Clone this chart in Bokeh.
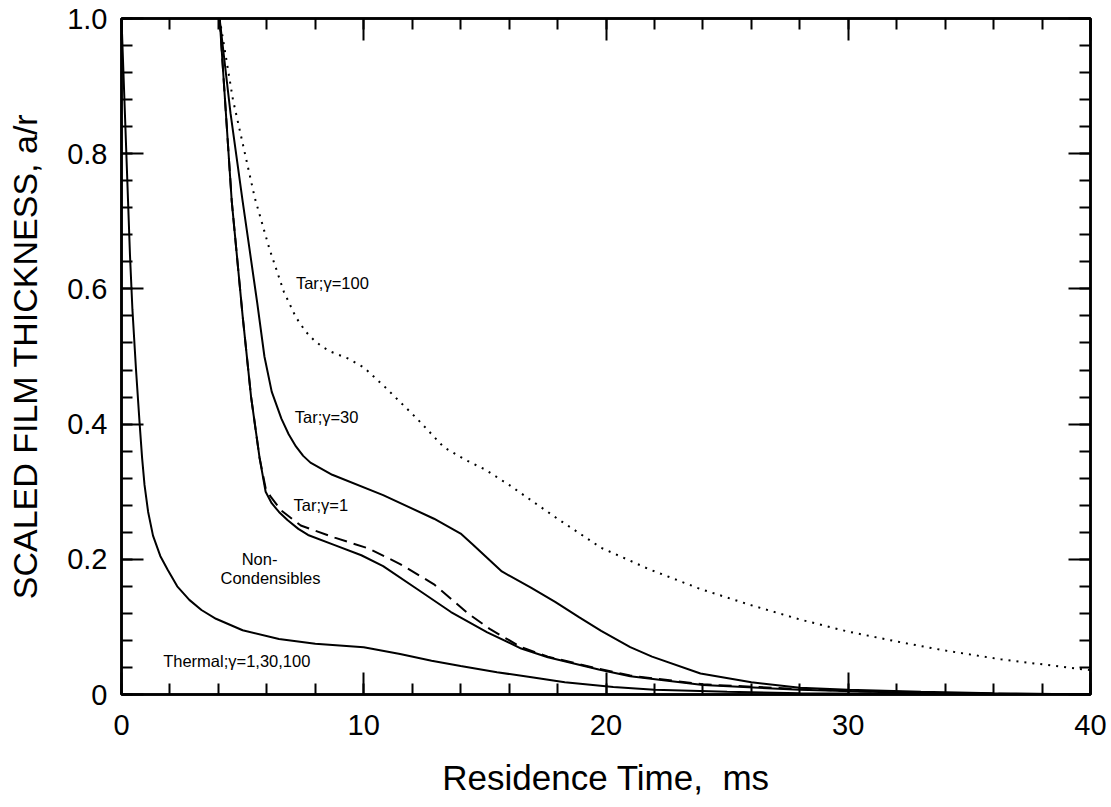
import numpy as np
from bokeh.plotting import figure
from bokeh.models import Range1d, FixedTicker, LinearAxis, CustomJSTickFormatter
from bokeh.core.properties import value
from bokeh.embed import file_html
from bokeh.resources import INLINE

# ---- data (residence time in ms, scaled film thickness a/r) ----
thermal_t = [0.0, 0.05, 0.15, 0.25, 0.35, 0.45, 0.6, 0.75, 0.85, 0.95, 1.1, 1.3, 1.6, 1.9, 2.3, 2.8, 3.3,
             3.9, 5.0, 6.5, 8.0, 10.0, 11.5, 12.8, 14.0, 15.5, 17.0, 18.3, 20.3, 22.0, 25.0, 28.0, 32.0, 40.0]
thermal_a = [1.0, 0.95, 0.85, 0.75, 0.65, 0.57, 0.48, 0.40, 0.35, 0.31, 0.27, 0.235, 0.205, 0.185, 0.16, 0.14, 0.125,
             0.112, 0.095, 0.082, 0.075, 0.070, 0.06, 0.05, 0.042, 0.033, 0.025, 0.018, 0.011, 0.007, 0.004, 0.002, 0.001, 0.0]

noncond_t = [4.05, 4.55, 5.0, 5.35, 5.7, 5.95, 6.2, 6.5, 6.85, 7.3, 7.7, 8.8, 9.9, 10.8, 12.2, 13.6, 15.1,
             16.5, 17.6, 19.7, 21.0, 24.0, 28.0, 32.0, 36.0, 40.0]
noncond_a = [1.0, 0.73, 0.56, 0.44, 0.35, 0.30, 0.283, 0.27, 0.258, 0.245, 0.236, 0.221, 0.206, 0.19, 0.156, 0.122, 0.092,
             0.068, 0.055, 0.037, 0.027, 0.014, 0.007, 0.003, 0.001, 0.0]

tar1_t = [4.05, 4.55, 5.0, 5.35, 5.7, 5.95, 6.15, 6.6, 7.4, 8.8, 10.2, 11.5, 12.9, 14.3, 15.2,
          16.5, 17.6, 19.7, 21.0, 24.0, 28.0, 32.0, 36.0, 40.0]
tar1_a = [1.0, 0.73, 0.56, 0.44, 0.35, 0.305, 0.293, 0.272, 0.25, 0.232, 0.216, 0.193, 0.163, 0.12, 0.097,
          0.07, 0.056, 0.038, 0.028, 0.015, 0.008, 0.003, 0.001, 0.0]

tar30_t = [4.05, 4.5, 5.0, 5.3, 5.6, 5.9, 6.2, 6.6, 6.9, 7.2, 7.5, 7.8, 8.7, 10.8, 12.9, 14.0, 14.5, 15.1, 15.7,
           16.9, 17.9, 18.9, 19.8, 21.0, 21.9, 23.9, 26.0, 28.0, 30.0, 33.0, 36.0, 40.0]
tar30_a = [1.0, 0.86, 0.73, 0.655, 0.58, 0.5, 0.448, 0.408, 0.385, 0.367, 0.353, 0.343, 0.325, 0.295, 0.26, 0.238, 0.222, 0.202, 0.182,
           0.158, 0.137, 0.114, 0.094, 0.07, 0.056, 0.031, 0.018, 0.01, 0.007, 0.004, 0.002, 0.0]

tar100_t = [4.05, 4.6, 5.5, 6.1, 6.7, 7.2, 7.6, 7.95, 8.3, 8.65, 9.35, 10.0, 10.9, 12.2, 13.3, 14.2, 15.0, 16.0,
            17.0, 18.0, 19.8, 21.8, 23.9, 26.0, 28.0, 30.0, 32.2, 34.0, 36.3, 40.0]
tar100_a = [1.0, 0.88, 0.735, 0.66, 0.596, 0.558, 0.537, 0.524, 0.514, 0.507, 0.497, 0.484, 0.454, 0.408, 0.366, 0.347, 0.333, 0.31,
            0.285, 0.26, 0.217, 0.185, 0.156, 0.132, 0.111, 0.093, 0.077, 0.065, 0.052, 0.036]

label_texts = ["Tar;\u03b3=100", "Tar;\u03b3=30", "Tar;\u03b3=1", "Thermal;\u03b3=1,30,100"]
label_t = [7.2, 7.15, 7.1, 1.72]
label_a = [0.608, 0.41, 0.28, 0.05]
nc_texts = ["Non-", "Condensibles"]
nc_t = [5.7, 6.15]
nc_a = [0.201, 0.172]

x_major = [0, 10, 20, 30, 40]
x_minor = list(range(0, 41, 2))
y_major = [0.0, 0.2, 0.4, 0.6, 0.8, 1.0]
y_minor = [round(v, 2) for v in np.arange(0, 1.0001, 0.04)]

FONT = "Liberation Sans"

p = figure(frame_width=969, frame_height=676,
           x_range=Range1d(0, 40), y_range=Range1d(0, 1),
           output_backend="svg", toolbar_location=None,
           min_border_left=121, min_border_right=18, min_border_top=18, min_border_bottom=100,
           x_axis_label="Residence Time,\u00a0\u00a0ms", y_axis_label="SCALED FILM THICKNESS, a/r")
p.xgrid.visible = False
p.ygrid.visible = False
p.outline_line_color = "black"
p.outline_line_width = 2.5
p.background_fill_color = "white"
p.border_fill_color = "white"

def style_axis(ax, major, minor, show_labels):
    ax.ticker = FixedTicker(ticks=major, minor_ticks=minor)
    ax.axis_line_width = 2.5
    ax.axis_line_color = "black"
    ax.major_tick_in = 22
    ax.major_tick_out = 0
    ax.minor_tick_in = 11
    ax.minor_tick_out = 0
    ax.major_tick_line_width = 2
    ax.minor_tick_line_width = 2
    ax.major_tick_line_color = "black"
    ax.minor_tick_line_color = "black"
    ax.major_label_text_font = FONT
    ax.major_label_text_font_size = "29px"
    ax.major_label_text_color = "black"
    ax.axis_label_text_font = FONT
    ax.axis_label_text_font_style = "normal"
    ax.axis_label_text_color = "black"
    if not show_labels:
        ax.major_label_text_font_size = "0px"
        ax.major_label_text_color = None

xa = p.xaxis[0]
ya = p.yaxis[0]
style_axis(xa, x_major, x_minor, True)
style_axis(ya, y_major, y_minor, True)
xa.axis_label_text_font_size = "35px"
ya.axis_label_text_font_size = "34px"
xa.major_label_standoff = 20
xa.axis_label_standoff = 20
ya.major_label_standoff = 14
ya.axis_label_standoff = 20
ya.formatter = CustomJSTickFormatter(code="return tick == 0 ? '0' : tick.toFixed(1);")

top = LinearAxis()
style_axis(top, x_major, x_minor, False)
p.add_layout(top, "above")
right = LinearAxis()
style_axis(right, y_major, y_minor, False)
p.add_layout(right, "right")

lw = 2
p.line(thermal_t, thermal_a, line_color="black", line_width=lw)
p.line(noncond_t, noncond_a, line_color="black", line_width=lw)
p.line(tar1_t, tar1_a, line_color="black", line_width=lw, line_dash="13 7")
p.line(tar30_t, tar30_a, line_color="black", line_width=lw)
p.line(tar100_t, tar100_a, line_color="black", line_width=2, line_dash="2 6")

p.text(x=label_t, y=label_a, text=label_texts, text_font=value(FONT), text_font_size="16.5px",
       text_baseline="middle", text_align="left", text_color="black")
p.text(x=nc_t, y=nc_a, text=nc_texts, text_font=value(FONT), text_font_size="16.5px",
       text_baseline="middle", text_align="center", text_color="black")

open("out.html", "w").write(file_html(p, INLINE))
